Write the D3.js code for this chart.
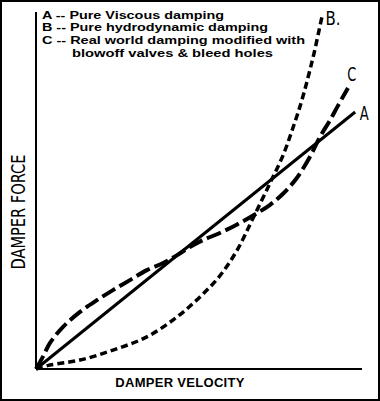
<!DOCTYPE html>
<html lang="en">
<head>
<meta charset="UTF-8">
<title>Damper force vs velocity</title>
<script src="https://d3js.org/d3.v7.min.js"></script>
<style>
    body { margin: 0; padding: 0; background: #fff; }
    svg { display: block; }
    .legend-text { font-family: "Liberation Sans", Arial, sans-serif; font-weight: bold; font-size: 11px; }
    .axis-label { font-family: "Liberation Sans", Arial, sans-serif; font-weight: bold; font-size: 13px; letter-spacing: 0.3px; }
    .narrow { font-family: "Liberation Sans Narrow", "DejaVu Sans Condensed", "Liberation Sans", sans-serif; }
</style>
</head>
<body>
<div id="chart"></div>
<script>
    // Curve data (velocity, force) in relative units 0-100
    const curveA = [[0, 0], [97.9, 72]];
    const curveB = [[0, 0], [4.3, 1.1], [13.5, 2.5], [23.6, 5.3], [34, 9], [43.3, 14.6], [50.3, 20.2],
        [56.4, 26.1], [61.7, 33.3], [66.6, 42.3], [71.8, 52.1], [75.8, 59.9], [78.8, 67.5],
        [81.3, 74.5], [83.4, 81.5], [85.3, 88.5], [87.7, 98.6]];
    const curveC = [[0, 0], [2.1, 3.4], [4.3, 7.3], [8.3, 11.8], [13.5, 16], [18.7, 19.3], [23.6, 22.1],
        [28.8, 24.9], [34, 27.7], [39, 29.7], [43.3, 31.9], [47.2, 34.2], [51.2, 36.1], [56.4, 38.1],
        [61.7, 40.5], [66.6, 43], [71.8, 46], [76, 49.3], [80, 53.5], [84, 59.4], [87.1, 65],
        [90.2, 69.7], [92.6, 73.7], [95.7, 78.7]];
    const legendLines = [
        "A -- Pure Viscous damping",
        "B -- Pure hydrodynamic damping",
        "C -- Real world damping modified with",
        "blowoff valves & bleed holes"
    ];
    const legendWidths = [182, 226, 263, 201];
    const curveLabels = [
        { name: "A", x: 99.3, y: 69.8, w: 9 },
        { name: "B.", x: 88.8, y: 96.3, w: 15 },
        { name: "C", x: 95.5, y: 80.8, w: 9 }
    ];

    const W = 380, H = 401;
    const svg = d3.select("#chart").append("svg")
        .attr("width", W).attr("height", H);

    svg.append("rect").attr("x", 1).attr("y", 1).attr("width", W - 2).attr("height", H - 2)
        .attr("fill", "#fff").attr("stroke", "#000").attr("stroke-width", 2);

    const x = d3.scaleLinear().domain([0, 100]).range([36, 362]);
    const y = d3.scaleLinear().domain([0, 100]).range([369, 12]);

    // axes
    svg.append("line").attr("x1", x(0)).attr("x2", x(0)).attr("y1", y(100)).attr("y2", y(0))
        .attr("stroke", "#000").attr("stroke-width", 2);
    svg.append("line").attr("x1", x(0)).attr("x2", x(100)).attr("y1", y(0)).attr("y2", y(0))
        .attr("stroke", "#000").attr("stroke-width", 2);

    const line = d3.line().x(d => x(d[0])).y(d => y(d[1])).curve(d3.curveCatmullRom);

    svg.append("path").datum(curveA).attr("d", line)
        .attr("fill", "none").attr("stroke", "#000").attr("stroke-width", 3);
    svg.append("path").datum(curveB).attr("d", line)
        .attr("fill", "none").attr("stroke", "#000").attr("stroke-width", 3.5)
        .attr("stroke-dasharray", "7,4");
    svg.append("path").datum(curveC).attr("d", line)
        .attr("fill", "none").attr("stroke", "#000").attr("stroke-width", 4)
        .attr("stroke-dasharray", "15,5");

    // legend text
    svg.selectAll(".legend-text").data(legendLines).enter().append("text")
        .attr("class", "legend-text")
        .attr("x", (d, i) => i === 3 ? 72 : 42)
        .attr("y", (d, i) => 18.5 + i * 12.8)
        .attr("textLength", (d, i) => legendWidths[i])
        .attr("lengthAdjust", "spacingAndGlyphs")
        .text(d => d);

    // curve labels
    svg.selectAll(".curve-label").data(curveLabels).enter().append("text")
        .attr("class", "curve-label narrow")
        .attr("x", d => x(d.x)).attr("y", d => y(d.y))
        .attr("textLength", d => d.w).attr("lengthAdjust", "spacingAndGlyphs")
        .style("font-size", "19px")
        .text(d => d.name);

    // axis titles
    svg.append("text").attr("class", "axis-label")
        .attr("x", 180).attr("y", 387).attr("text-anchor", "middle")
        .text("DAMPER VELOCITY");
    svg.append("text").attr("class", "narrow")
        .attr("transform", "translate(25,212) rotate(-90)")
        .attr("text-anchor", "middle")
        .attr("textLength", 115).attr("lengthAdjust", "spacingAndGlyphs")
        .style("font-size", "19px")
        .text("DAMPER FORCE");
</script>
</body>
</html>
